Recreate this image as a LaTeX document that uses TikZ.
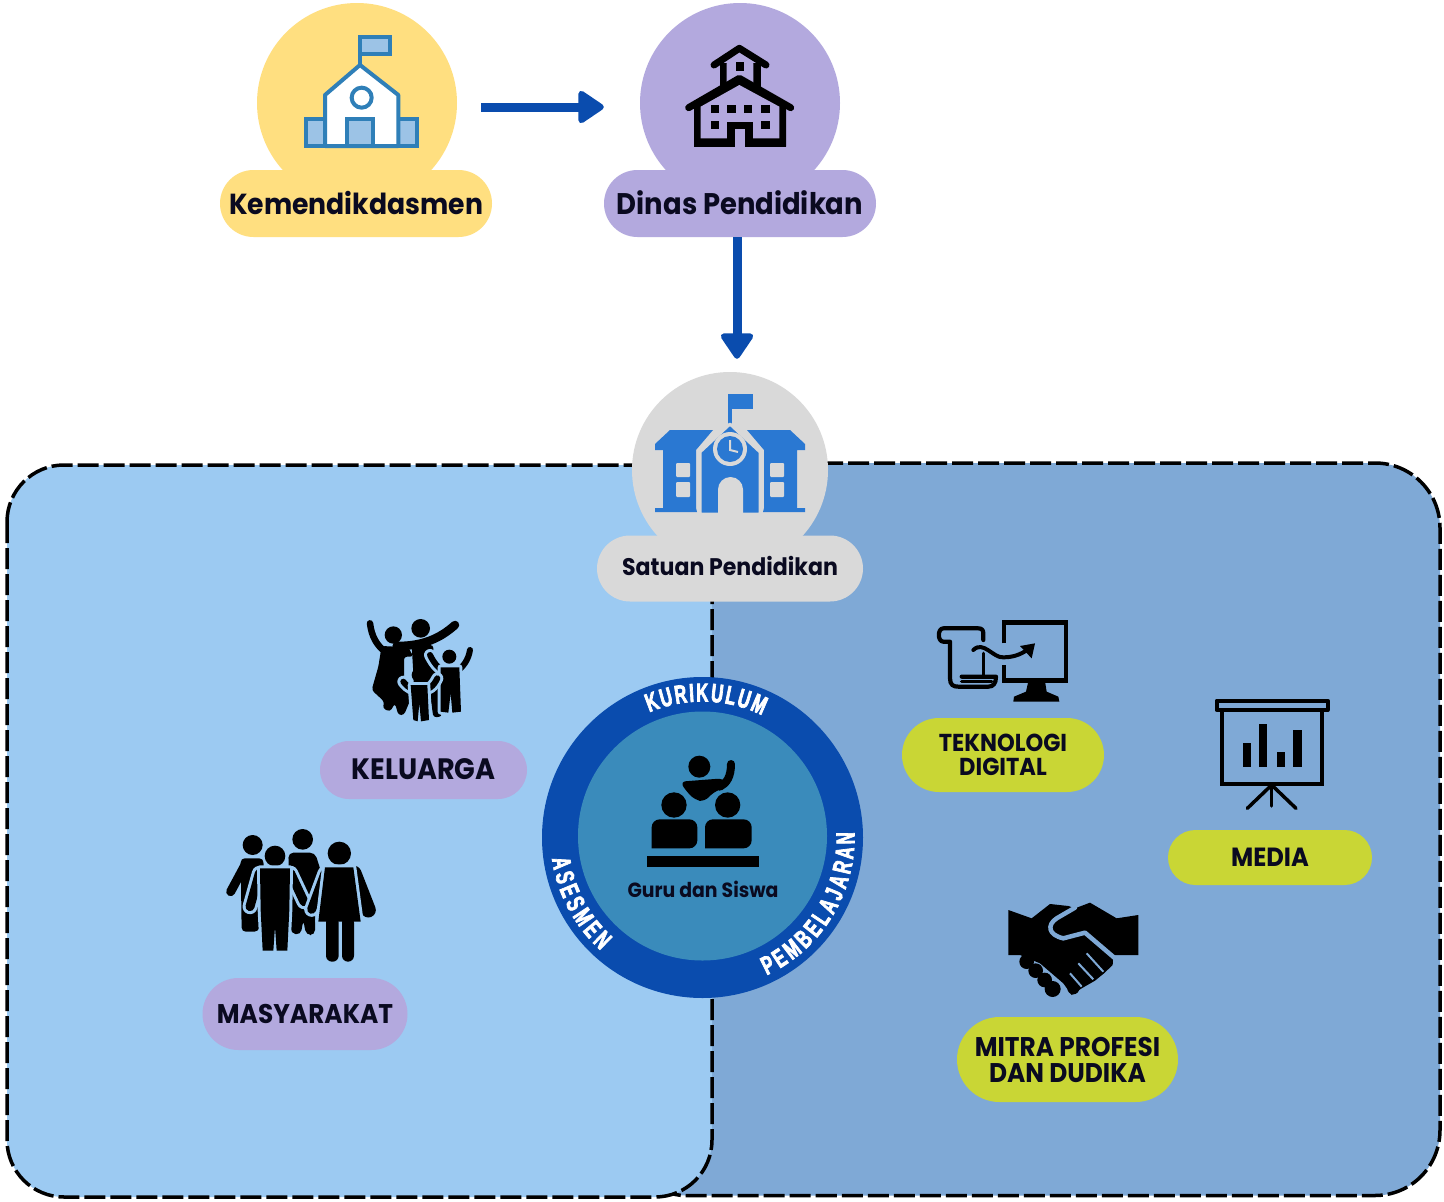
\documentclass[tikz,border=0pt]{standalone}
\usepackage{fontspec}
\setmainfont{Poppins}
\newfontfamily\lab[FakeStretch=0.92]{Poppins}
\newfontfamily\arcf[FakeStretch=0.64,FakeBold=2.6,UprightFont=* Bold]{Liberation Sans}
\usetikzlibrary{arrows.meta,shapes.misc,calc,decorations.text}
\definecolor{lpan}{HTML}{9CCAF2}
\definecolor{rpan}{HTML}{7FA9D6}
\definecolor{flow}{HTML}{0A4CAE}
\definecolor{yel}{HTML}{FFDF80}
\definecolor{pur}{HTML}{B3A9DE}
\definecolor{gry}{HTML}{D9D9D9}
\definecolor{lime}{HTML}{C9D635}
\definecolor{ink}{HTML}{0A0A20}
\definecolor{inner}{HTML}{3A8BBB}
\definecolor{icb}{HTML}{2F7FB8}
\definecolor{icl}{HTML}{9CC3E6}
\definecolor{blu}{HTML}{2A78D2}
\tikzset{
 pill/.style={rounded rectangle,draw=none,inner sep=0pt,align=center,text=ink,font=\lab\bfseries\fontsize{#1}{#1}\selectfont},
 disc/.style={circle,draw=none,inner sep=0pt},
 panel/.style={draw=black,line width=3.5pt,dash pattern=on 21pt off 5pt},
 flowline/.style={draw=flow,line width=9pt,-{Triangle[length=28pt,width=36pt,round,line width=6pt]},fill=flow},
 ln/.style={draw=black,line cap=round,line join=round},
 arct/.style={decorate,decoration={text along path,text align=fit to path,text={#1}}}
}
\newcommand{\limb}[3]{%
 \draw[line width=#1+6pt,#3,line cap=round,line join=round] #2;
 \draw[line width=#1,black,line cap=round,line join=round] #2;}
\newcommand{\poly}[2]{\draw[#1,line width=6pt,fill=black,line join=round] #2;\fill[black] #2;}
\newcommand{\arcstyle}{\arcf\fontsize{26}{26}\selectfont\color{white}}
\begin{document}
\begin{tikzpicture}[x=1pt,y=-1pt]
\useasboundingbox (0,0) rectangle (1444,1202);
\fill[white] (0,0) rectangle (1444,1202);
% panels
\path[panel,fill=rpan] (640,463) -- (1375,463) .. controls (1411,463) and (1440,492) .. (1440,528) -- (1440,1130) .. controls (1440,1166.5) and (1411,1195.5) .. (1375,1195.5) -- (685,1195.5) .. controls (660,1195.5) and (640,1175) .. (640,1150) -- cycle;
\path[panel,fill=lpan,rounded corners=57pt] (7,465) rectangle (712,1197);
% top nodes
\node[disc,fill=yel,minimum size=200pt] (kem) at (357,103) {};
\node[pill=29,fill=yel,minimum width=272pt,minimum height=67pt] (keml) at (356,203.5) {\raisebox{1pt}{Kemendikdasmen}};
\node[disc,fill=pur,minimum size=200pt] (din) at (740,103) {};
\node[pill=29.8,fill=pur,minimum width=272pt,minimum height=67pt] (dinl) at (740,203.5) {\raisebox{1pt}{Dinas Pendidikan}};
\node[disc,fill=gry,minimum size=196pt] (sat) at (730,470) {};
\node[pill=24,fill=gry,minimum width=266pt,minimum height=66pt] (satl) at (730,568.5) {\raisebox{5pt}{Satuan Pendidikan}};
\draw[flowline] ($(kem.east)+(24,4)$) -- ($(din.west)+(-36,4)$);
\draw[flowline] ($(dinl.south)+(-3,0)$) -- ($(sat.north)+(7,-13)$);
% icon: Kemendikdasmen
\begin{scope}[shift={(280,20)},scale=1/3]
\draw[icb,line width=4pt,fill=icl] (240,52) rectangle (330,103);
\draw[icb,line width=4pt] (240,50) -- (240,135);
\draw[icb,line width=4pt,fill=icl] (78,298) rectangle (410,378);
\draw[icb,line width=4pt,fill=white,line join=round] (135,378) -- (135,225) -- (240,135) -- (355,225) -- (355,378) -- cycle;
\draw[icb,line width=4pt,fill=icl] (200,298) rectangle (280,378);
\draw[icb,line width=4pt,fill=white] (245,233) circle (30);
\end{scope}
% icon: Dinas
\begin{scope}[shift={(670,30)},scale=1/3]
\fill (150,100) rectangle (272,175);
\fill[pur] (170,100) -- (208,78) -- (250,100) -- (250,165) -- (170,165) -- cycle;
\draw[black,line width=7pt,line join=round,line cap=round] (132,105) -- (208,55) -- (288,105);
\fill (197,97) rectangle (222,122);
\fill (72,225) -- (208,150) -- (348,225) -- (348,350) -- (72,350) -- cycle;
\fill[pur] (92,230) -- (208,165) -- (328,230) -- (328,325) -- (92,325) -- cycle;
\draw[black,line width=7pt,line join=round,line cap=round] (56,233) -- (208,145) -- (362,233);
\foreach \px/\py in {122/225,172/225,222/225,274/225,122/273,274/273}{\fill (\px,\py) rectangle ++(25,24);}
\fill (172,275) rectangle (248,350);
\fill[pur] (195,297) rectangle (225,350);
\fill (72,326) rectangle (195,350);
\fill (225,326) rectangle (348,350);
\end{scope}
% icon: Satuan
\begin{scope}
\fill[blu] (728,394) rectangle (753,409);
\fill[blu] (728,394) rectangle (732,428);
\fill[blu] (670,430) -- (713,430) -- (696,450) -- (696,508) -- (697,512) -- (655,512) -- (655,508) -- (663,508) -- (663,450) -- (655,450) -- (655,444) -- cycle;
\fill[blu] (790,430) -- (747,430) -- (764,450) -- (764,508) -- (763,512) -- (805,512) -- (805,508) -- (797,508) -- (797,450) -- (805,450) -- (805,444) -- cycle;
\draw[gry,line width=3pt,fill=blu,line join=round] (730,424) -- (760,452) -- (760,514) -- (700,514) -- (700,452) -- cycle;
\foreach \wx in {676,770}{\fill[gry,rounded corners=1pt] (\wx,463) rectangle ++(14,14); \fill[gry,rounded corners=1pt] (\wx,482) rectangle ++(14,15);}
\fill[gry] (718,514) -- (718,489.5) arc[start angle=180,end angle=360,radius=12.5] -- (743,514) -- cycle;
\fill[gry] (730,449) circle (17);
\fill[blu] (730,449) circle (13);
\draw[gry,line width=2pt] (730,440) -- (730,450) -- (738,452);
\fill[gry] (654,512.5) rectangle (806,516);
\end{scope}
% ring
\node[disc,fill=flow,minimum size=321pt] (ring) at (702.5,837.5) {};
\node[disc,fill=inner,minimum size=249pt] (core) at (702.5,836) {};
\path[arct={|\arcstyle|KURIKULUM}] plot[domain=113:64,samples=30] ({702.5+136*cos(\x)},{837.5-136*sin(\x)});
\path[arct={|\arcstyle|ASESMEN}] plot[domain=188:228,samples=30] ({702.5+152*cos(\x)},{837.5-152*sin(\x)});
\path[arct={|\arcstyle|PEMBELAJARAN}] plot[domain=295:362,samples=30] ({702.5+152*cos(\x)},{837.5-152*sin(\x)});
\node[inner sep=0pt,text=ink,font=\lab\bfseries\fontsize{20.5}{21}\selectfont] (guru) at (703,889.5) {Guru dan Siswa};
% icon: guru
\begin{scope}[shift={(530,670)},scale=1/3]
\fill (508,290) circle (33);
\draw[black,line width=8pt,line cap=round] (570,350) .. controls (590,340) and (603,320) .. (603,282);
\fill[black,rounded corners=6pt] (450,335) -- (580,325) -- (600,345) -- (545,370) -- (525,395) -- (495,390) -- (470,365) -- cycle;
\fill (432,405) circle (38);
\fill (593,405) circle (38);
\fill[rounded corners=8pt] (365,535) -- (365,448) -- (502,448) -- (502,535) [sharp corners] -- cycle;
\fill[rounded corners=8pt] (525,535) -- (525,448) -- (665,448) -- (665,535) [sharp corners] -- cycle;
\fill (352,558) rectangle (688,592);
\end{scope}
% labels left
\node[pill=29.5,fill=pur,minimum width=207pt,minimum height=58pt] (kel) at (423.5,770) {\raisebox{1pt}{KELUARGA}};
\node[pill=27,fill=pur,minimum width=205pt,minimum height=72pt] (mas) at (305,1014) {MASYARAKAT};
% labels right
\node[pill=24.5,fill=lime,minimum width=202pt,minimum height=74pt] (tek) at (1003,755) {TEKNOLOGI\\[-1pt]DIGITAL};
\node[pill=26.3,fill=lime,minimum width=204pt,minimum height=55pt] (med) at (1270,857.5) {\raisebox{-2pt}{MEDIA}};
\node[pill=27,fill=lime,minimum width=221pt,minimum height=85pt] (mit) at (1067.5,1059.5) {MITRA PROFESI\\[-1pt]DAN DUDIKA};
% icon: family
\begin{scope}[shift={(200,610)},scale=1/3]
\fill (580,75) circle (26);
\draw[ln,line width=6.5pt] (510,40) .. controls (515,80) and (530,105) .. (555,125);
\fill[rounded corners=3pt] (545,108) -- (625,112) -- (640,140) -- (612,140) -- (612,200) -- (635,260) -- (612,315) -- (595,315) -- (585,280) -- (570,305) -- (548,295) -- (553,275) -- (515,240) -- (535,170) -- cycle;
\fill (662,55) circle (28);
\draw[ln,line width=8.5pt] (590,108) .. controls (670,108) and (720,85) .. (765,45);
\fill[rounded corners=3pt] (635,105) -- (700,105) -- (700,130) -- (725,230) -- (725,320) -- (700,322) -- (690,250) -- (685,332) -- (645,332) -- (640,190) -- cycle;
\limb{6pt}{(690,135) .. controls (705,165) and (720,180) .. (745,190)}{lpan}
\limb{6pt}{(810,120) .. controls (805,150) and (790,170) .. (770,185)}{lpan}
\fill (748,140) circle (21);
\poly{lpan}{(722,172) -- (778,172) -- (783,305) -- (757,308) -- (752,250) -- (745,308) -- (722,305) -- cycle}
\limb{6pt}{(610,215) .. controls (625,235) and (640,240) .. (655,240)}{lpan}
\limb{6pt}{(712,205) .. controls (700,230) and (685,240) .. (665,240)}{lpan}
\fill (655,195) circle (20);
\poly{lpan}{(632,225) -- (682,225) -- (687,330) -- (663,334) -- (658,280) -- (653,334) -- (640,330) -- cycle}
\end{scope}
% icon: community
\begin{scope}[shift={(200,610)},scale=1/3]
\fill (158,705) circle (30);
\limb{9pt}{(135,765) -- (92,845)}{lpan}
\fill[rounded corners=4pt] (122,745) -- (190,745) -- (195,900) -- (175,965) -- (125,965) -- cycle;
\fill (308,688) circle (31);
\fill[rounded corners=5pt] (265,728) -- (345,728) -- (368,800) -- (345,900) -- (345,975) -- (318,975) -- (310,930) -- (302,975) -- (272,970) -- cycle;
\limb{9pt}{(178,790) -- (150,890)}{lpan}
\limb{9pt}{(272,790) -- (312,875)}{lpan}
\fill (225,738) circle (31);
\poly{lpan}{(180,775) -- (270,775) -- (268,900) -- (262,1022) -- (230,1022) -- (225,950) -- (220,1022) -- (188,1022) -- (182,900) -- cycle}
\limb{9pt}{(375,790) -- (335,898)}{lpan}
\limb{9pt}{(462,790) -- (505,900)}{black}
\fill (418,730) circle (35);
\poly{lpan}{(375,772) -- (460,772) -- (482,935) -- (355,935) -- cycle}
\fill[rounded corners=6pt] (378,920) rectangle (416,1055);
\fill[rounded corners=6pt] (426,920) rectangle (462,1055);
\end{scope}
% icon: digital
\begin{scope}[shift={(900,610)},scale=1/3]
\draw[ln,line width=4.5pt,line cap=butt,line join=miter] (312,100) -- (312,38) -- (498,38) -- (498,212) -- (312,212) -- (312,165);
\fill (385,214) -- (435,214) -- (440,245) -- (475,260) -- (478,275) -- (340,275) -- (342,260) -- (378,245) -- cycle;
\draw[ln,line width=4.2pt] (250,90) -- (250,70) .. controls (250,60) and (245,55) .. (235,55) -- (130,55) .. controls (112,55) and (112,95) .. (130,95) -- (150,95) -- (150,205) .. controls (150,225) and (160,230) .. (175,230) -- (265,230) .. controls (280,230) and (288,220) .. (288,200) -- (185,200);
\draw[ln,line width=3.5pt] (185,215) -- (275,215);
\draw[ln,line width=3.5pt] (250,130) -- (250,195);
\draw[ln,line width=4pt] (220,120) .. controls (250,90) and (280,145) .. (310,142) .. controls (345,142) and (370,130) .. (395,110);
\fill (360,108) -- (405,100) -- (395,145) -- cycle;
\end{scope}
% icon: media
\begin{scope}[shift={(900,610)},scale=1/3]
\draw[ln,line width=4pt] (950,272) rectangle (1283,300);
\draw[ln,line width=4pt,line cap=butt,line join=miter] (965,300) rectangle (1265,522);
\fill (1028,400) rectangle (1052,472);
\fill (1078,342) rectangle (1102,472);
\fill (1130,425) rectangle (1155,472);
\fill (1180,360) rectangle (1205,472);
\draw[ln,line width=3.5pt] (1115,525) -- (1042,595);
\draw[ln,line width=3.5pt] (1115,525) -- (1115,588);
\draw[ln,line width=3.5pt] (1115,525) -- (1188,595);
\end{scope}
% icon: handshake
\begin{scope}[shift={(900,610)},scale=1/3]
\fill (325,900) -- (395,925) -- (450,882) -- (505,888) -- (525,895) -- (570,878) -- (650,925) -- (715,915) -- (715,1035) -- (640,1035) -- (638,1065) -- (612,1090) -- (585,1112) -- (545,1135) -- (515,1155) -- (490,1120) -- (420,1060) -- (360,1035) -- (325,1035) -- cycle;
\fill (380,1055) circle (22);
\fill (407,1082) circle (22);
\fill (434,1110) circle (22);
\fill (458,1137) circle (24);
\fill (520,1135) circle (18);
\draw[rpan,line width=4.5pt,line cap=round,line join=round] (525,893) -- (470,925) .. controls (440,945) and (445,975) .. (490,985) -- (555,968) -- (645,1045);
\draw[rpan,line width=2pt] (610,1085) -- (560,1030);
\draw[rpan,line width=2pt] (580,1108) -- (535,1060);
\draw[rpan,line width=2pt] (545,1130) -- (510,1090);
\end{scope}
\end{tikzpicture}
\end{document}
